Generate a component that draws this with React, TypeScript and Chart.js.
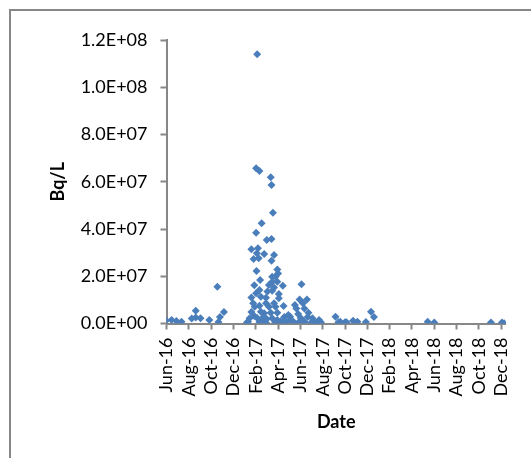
import React, { useEffect, useRef } from "react";
import { Chart, registerables } from "chart.js";

Chart.register(...registerables);

// Sample dates (ISO) and activity values (Bq/L)
const sampleDates: string[] = [
  "2016-05-31", "2016-06-15", "2016-06-28", "2016-07-12",
  "2016-08-09", "2016-08-20", "2016-08-20", "2016-09-02", "2016-09-26",
  "2016-10-18", "2016-10-21", "2016-10-25", "2016-11-05",
  "2017-01-07", "2017-01-14", "2017-01-10",
  "2017-01-19", "2017-01-24", "2017-01-28", "2017-01-27", "2017-01-25", "2017-01-19",
  "2017-02-01", "2017-02-10", "2017-02-02", "2017-02-01", "2017-02-03", "2017-02-06",
  "2017-02-08", "2017-02-01", "2017-02-10", "2017-02-04", "2017-02-16", "2017-02-12",
  "2017-02-10", "2017-02-14", "2017-02-14", "2017-02-19", "2017-02-23", "2017-02-23",
  "2017-02-28", "2017-02-28", "2017-02-28", "2017-03-02", "2017-03-04", "2017-03-08",
  "2017-03-08", "2017-03-13", "2017-03-15", "2017-03-15", "2017-03-15", "2017-03-13",
  "2017-03-17", "2017-03-17", "2017-03-17", "2017-03-17", "2017-03-19", "2017-03-22",
  "2017-03-22", "2017-03-22", "2017-03-26", "2017-03-26", "2017-03-31", "2017-04-02",
  "2017-03-31", "2017-03-31", "2017-03-31", "2017-04-04", "2017-04-04", "2017-04-13",
  "2017-04-15", "2017-04-17", "2017-04-26", "2017-04-30", "2017-05-05", "2017-05-14",
  "2017-05-18", "2017-05-22", "2017-05-27", "2017-05-27", "2017-05-31", "2017-06-05",
  "2017-06-09", "2017-06-13", "2017-06-13", "2017-06-20", "2017-06-24", "2017-07-01",
  "2017-07-05", "2017-07-23", "2017-07-28",
  "2017-01-19", "2017-01-27", "2017-02-04", "2017-02-10", "2017-02-21", "2017-03-02",
  "2017-03-25", "2017-04-09", "2017-04-19", "2017-05-06", "2017-06-03", "2017-06-22",
  "2017-07-10", "2017-07-17",
  "2017-09-06", "2017-09-14", "2017-09-19", "2017-10-02", "2017-10-06", "2017-10-24",
  "2017-11-05", "2017-11-28", "2017-12-12", "2017-12-20",
  "2018-05-16", "2018-06-03", "2018-11-05", "2018-12-05", "2018-12-11",
];

const sampleValues: number[] = [
  1.3e6, 1.5e6, 1.1e6, 7.6e5,
  2.1e6, 2.5e6, 5.4e6, 2.2e6, 1.5e6,
  1.56e7, 6e5, 2.75e6, 4.9e6,
  4e5, 2.2e6, 7.6e5,
  1.1e7, 8.55e6, 7.1e6, 1.62e7, 2.73e7, 3.14e7,
  1.28e7, 1.42e7, 2.22e7, 3.84e7, 2.97e7, 3.18e7,
  2.76e7, 6.57e7, 6.45e7, 1.14e8, 4.24e7, 1.84e7,
  7.5e6, 1.13e7, 5e6, 1.5e6, 2.94e7, 4.3e6,
  1.09e7, 8.55e6, 3.4e5, 3.53e7, 1.35e7, 1.63e7,
  7.1e6, 6.19e7, 5.86e7, 3.58e7, 2.66e7, 4.6e6,
  1.98e7, 1.77e7, 1.39e7, 2.2e6, 4.69e7, 2.9e7,
  1.52e7, 8.55e6, 1.98e7, 7.1e6, 2.29e7, 2.12e7,
  1.77e7, 4.6e6, 1.5e6, 1.25e7, 1.07e7, 3.4e5,
  1.6e7, 7.4e6, 7.6e5, 3.6e6, 2.9e6, 7.6e5,
  7.8e6, 6.4e6, 4e6, 3.4e5, 1.02e7, 1.66e7,
  8.55e6, 6.4e6, 7.6e5, 1.02e7, 4.6e6, 3.4e5,
  2.2e6, 1.5e6, 5e5,
  4.9e6, 3.2e6, 2.3e6, 6e5, 2.75e6, 1.9e6,
  6e5, 1e6, 2.75e6, 1.5e6, 2.3e6, 2.75e6,
  6e5, 2e5,
  2.9e6, 5e5, 7.6e5, 5e5, 5e5, 1.2e6,
  7.6e5, 6e5, 5e6, 2.75e6,
  7.6e5, 4e5, 4e5, 4e5, 1e5,
];

const xTickLabels: string[] = [
  "Jun-16", "Aug-16", "Oct-16", "Dec-16", "Feb-17", "Apr-17", "Jun-17", "Aug-17",
  "Oct-17", "Dec-17", "Feb-18", "Apr-18", "Jun-18", "Aug-18", "Oct-18", "Dec-18",
];
const yTickLabels: string[] = [
  "0.0E+00", "2.0E+07", "4.0E+07", "6.0E+07", "8.0E+07", "1.0E+08", "1.2E+08",
];

const ORIGIN = Date.UTC(2016, 5, 1);
const DAY = 86400000;
const X_STEP_DAYS = 61;
const X_MAX_DAYS = 928;
const Y_STEP = 2e7;
const Y_MAX = 1.2e8;

const toDays = (iso: string) => {
  const [y, m, d] = iso.split("-").map(Number);
  return (Date.UTC(y, m - 1, d) - ORIGIN) / DAY;
};

const GRAY = "#878787";
const FONT = "Lato, 'Liberation Sans', sans-serif";

const framePlugin = {
  id: "frame",
  beforeDraw(chart: any) {
    const ctx = chart.ctx;
    ctx.save();
    ctx.strokeStyle = GRAY;
    ctx.lineWidth = 2;
    ctx.beginPath();
    ctx.moveTo(10, chart.height);
    ctx.lineTo(10, 10);
    ctx.lineTo(chart.width, 10);
    ctx.stroke();
    ctx.restore();
  },
};

export default function App() {
  const ref = useRef<HTMLCanvasElement | null>(null);

  useEffect(() => {
    if (!ref.current) return;
    const points = sampleDates.map((d, i) => ({ x: toDays(d), y: sampleValues[i] }));
    const chart = new Chart(ref.current, {
      type: "scatter",
      data: {
        datasets: [
          {
            data: points,
            pointStyle: "rectRot",
            pointRadius: 4,
            pointBorderWidth: 0,
            backgroundColor: "#4a7ebb",
            borderColor: "#4a7ebb",
          },
        ],
      },
      plugins: [framePlugin],
      options: {
        animation: false,
        responsive: false,
        devicePixelRatio: 1,
        layout: { padding: { top: 40, right: 14, bottom: 0, left: 0 } },
        plugins: { legend: { display: false }, tooltip: { enabled: false } },
        scales: {
          x: {
            type: "linear",
            min: 0,
            max: X_MAX_DAYS,
            afterFit: (s: any) => {
              s.height = 134.5;
            },
            afterBuildTicks: (s: any) => {
              s.ticks = xTickLabels.map((_, i) => ({ value: i * X_STEP_DAYS }));
            },
            grid: {
              display: true,
              drawOnChartArea: false,
              drawTicks: true,
              tickLength: 6,
              tickWidth: 2,
              color: GRAY,
            },
            border: { display: true, color: GRAY, width: 2 },
            ticks: {
              autoSkip: false,
              maxRotation: 90,
              minRotation: 90,
              padding: 8,
              color: "#000",
              font: { family: FONT, size: 18 },
              callback: (v: any) => {
                const i = Math.round(Number(v) / X_STEP_DAYS);
                return xTickLabels[i] ?? "";
              },
            },
            title: {
              display: true,
              text: "Date",
              color: "#000",
              font: { family: FONT, size: 18, weight: "bold" },
              padding: { top: 0, bottom: 25 },
            },
          },
          y: {
            type: "linear",
            min: 0,
            max: Y_MAX,
            afterFit: (s: any) => {
              s.width = 166.5;
            },
            ticks: {
              stepSize: Y_STEP,
              padding: 13,
              color: "#000",
              font: { family: FONT, size: 18 },
              callback: (v: any) => yTickLabels[Math.round(Number(v) / Y_STEP)] ?? "",
            },
            grid: {
              display: true,
              drawOnChartArea: false,
              drawTicks: true,
              tickLength: 6,
              tickWidth: 2,
              color: GRAY,
            },
            border: { display: true, color: GRAY, width: 2 },
            title: {
              display: true,
              text: "Bq/L",
              color: "#000",
              font: { family: FONT, size: 18, weight: "bold" },
              padding: { top: 47, bottom: 0 },
            },
          },
        },
      },
    });
    return () => chart.destroy();
  }, []);

  return (
    <div style={{ position: "fixed", left: 0, top: 0, width: 531, height: 458, background: "#fff" }}>
      <canvas ref={ref} width={531} height={458} style={{ width: 531, height: 458 }} />
    </div>
  );
}
